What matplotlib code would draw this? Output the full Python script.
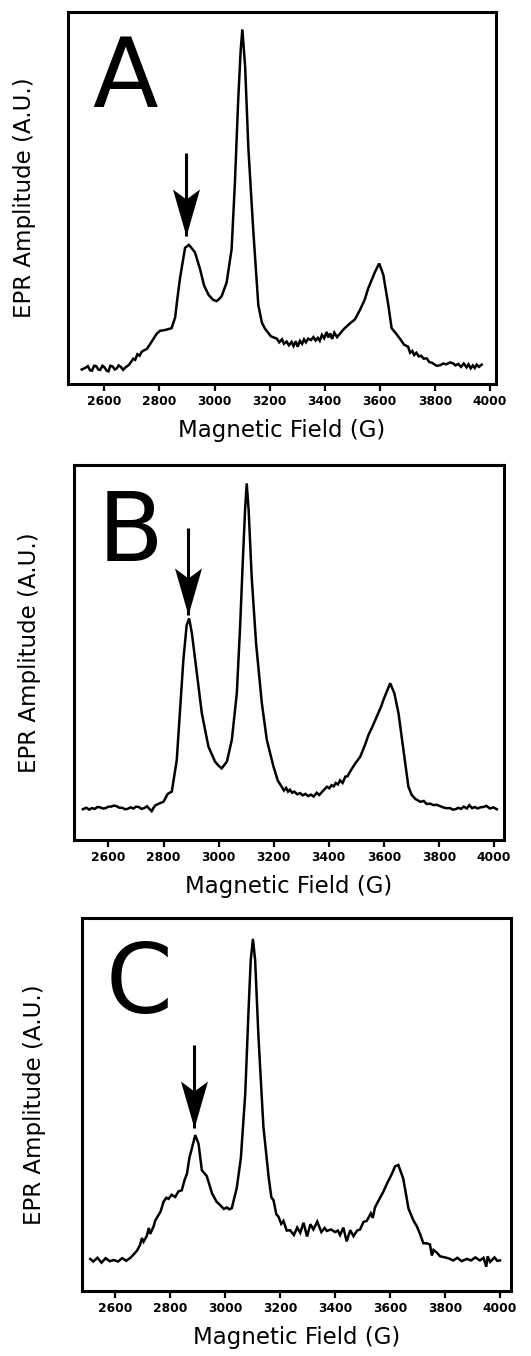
import matplotlib
matplotlib.use("Agg")
import matplotlib.pyplot as plt
from matplotlib.path import Path

# ---------------- data ----------------
field_A = [2518, 2530, 2540, 2548, 2555, 2563, 2570, 2578, 2585, 2593, 2600, 2608, 2615, 2622, 2630, 2638,
           2645, 2652, 2660, 2668, 2676, 2690, 2705, 2712, 2720, 2728, 2735, 2745, 2754,
           2765, 2778, 2790, 2802, 2820, 2844, 2857, 2866, 2875, 2893, 2907, 2918, 2929, 2947, 2962, 2978,
           2995, 3008, 3016, 3026, 3044, 3062, 3074, 3086, 3095, 3101, 3111, 3123, 3141, 3159, 3172, 3183,
           3205, 3226, 3235, 3245, 3252, 3262, 3270, 3280, 3287, 3295, 3302, 3310, 3318, 3325, 3332, 3340,
           3350, 3359, 3367, 3375, 3382, 3390, 3398, 3407, 3413, 3420, 3427, 3435, 3445, 3456,
           3470, 3492, 3510, 3528, 3545, 3558, 3583, 3598, 3613, 3631, 3643, 3660, 3673, 3688, 3703, 3710,
           3718, 3725, 3733, 3742, 3750, 3760, 3770, 3780, 3790, 3806, 3818, 3830, 3842, 3855, 3865, 3875,
           3885, 3895, 3905, 3915, 3922, 3930, 3938, 3945, 3952, 3960, 3970]
amp_A = [3.9, 4.3, 4.8, 3.7, 3.6, 4.9, 4.8, 3.9, 3.8, 4.9, 4.5, 3.6, 3.4, 4.9, 4.7, 3.9,
         4.2, 5.0, 4.6, 3.8, 4.4, 5.2, 6.8, 6.5, 8.0, 7.6, 8.6, 9.1, 9.4,
         10.6, 12.1, 13.5, 14.3, 14.5, 15.0, 17.9, 23.5, 28.6, 36.6, 37.4, 36.4, 35.4, 31.0, 26.5, 24.0,
         22.6, 22.3, 22.8, 23.6, 27.3, 36.2, 54.1, 76.4, 89.8, 95.3, 85.5, 63.2, 40.9, 21.2, 16.5, 14.9,
         12.8, 12.2, 11.2, 12.0, 10.8, 11.4, 10.4, 11.3, 10.2, 11.5, 10.0, 11.6, 10.8, 12.0, 11.2, 12.2,
         11.8, 12.6, 11.7, 12.4, 11.6, 13.2, 12.3, 14.0, 12.5, 13.6, 12.1, 13.8, 12.6, 13.6,
         14.8, 16.3, 17.4, 19.9, 22.6, 25.7, 30.2, 32.4, 29.3, 21.2, 15.0, 13.5, 12.2, 10.6, 10.0, 8.4,
         8.9, 7.8, 8.4, 7.4, 7.6, 6.8, 6.9, 5.9, 5.7, 4.9, 5.0, 5.5, 5.3, 5.8, 5.6, 5.0,
         5.4, 4.6, 5.5, 4.5, 5.3, 4.2, 5.0, 4.3, 5.2, 4.6, 5.2]

field_B = [2507, 2520, 2530, 2540, 2550, 2560, 2570, 2580, 2590, 2600, 2610, 2620, 2630, 2640, 2650,
           2660, 2670, 2680, 2691, 2700, 2710, 2720, 2730, 2740, 2750, 2757, 2763, 2770, 2780,
           2790, 2800, 2815, 2830, 2848, 2860, 2872, 2884, 2893, 2903, 2921, 2939, 2963, 2987, 3000, 3011,
           3030, 3048, 3066, 3078, 3088, 3096, 3102, 3109, 3120, 3136, 3157, 3175, 3199, 3215, 3229, 3237,
           3245, 3252, 3259, 3267, 3275, 3285, 3296, 3305, 3315, 3325, 3335, 3345, 3356, 3365, 3375, 3385,
           3393, 3402, 3410, 3418, 3425, 3433, 3441, 3450, 3460, 3468, 3477, 3495, 3514, 3530, 3544,
           3560, 3574, 3590, 3598, 3610, 3623, 3638, 3653, 3671, 3689, 3701, 3715, 3732, 3745, 3755, 3768,
           3780, 3792, 3805, 3815, 3825, 3840, 3850, 3860, 3870, 3880, 3890, 3901, 3910, 3920, 3930, 3940,
           3950, 3961, 3972, 3985, 3997, 4010]
amp_B = [8.2, 8.6, 8.1, 8.5, 8.3, 8.8, 8.7, 8.4, 8.5, 8.9, 8.9, 9.2, 9.0, 8.6, 8.6,
         8.2, 8.3, 8.7, 8.4, 8.9, 8.8, 8.3, 8.5, 9.0, 8.2, 7.7, 8.5, 9.2, 9.6,
         9.9, 10.2, 12.3, 12.9, 21.3, 34.7, 48.0, 57.3, 59.1, 55.1, 44.4, 33.8, 24.9, 20.9, 19.8, 19.1,
         20.9, 26.7, 39.1, 56.9, 74.7, 88.0, 95.1, 88.0, 70.2, 52.4, 36.4, 26.7, 19.6, 15.8, 14.2, 13.2,
         13.9, 12.9, 13.4, 12.6, 12.9, 12.2, 12.5, 11.9, 12.3, 11.7, 12.1, 11.6, 12.6, 12.0, 12.8, 13.6,
         14.2, 13.8, 14.6, 14.3, 15.2, 14.8, 15.9, 15.2, 16.9, 17.0, 18.2, 20.3, 22.2, 25.1, 28.0,
         30.5, 32.9, 35.6, 37.3, 39.5, 41.8, 39.1, 33.8, 24.0, 14.2, 12.0, 10.9, 10.2, 10.4, 9.6, 9.7,
         9.3, 9.4, 9.0, 8.7, 8.5, 8.5, 8.1, 8.2, 8.6, 8.3, 8.9, 8.4, 9.3, 8.5, 8.8, 8.4,
         8.7, 8.8, 9.1, 8.4, 8.7, 8.2]

field_C = [2509, 2520, 2535, 2550, 2565, 2580, 2595, 2610, 2625, 2640, 2655, 2668, 2679, 2690, 2697, 2703,
           2715, 2722, 2727, 2740, 2745, 2752, 2765, 2776, 2786, 2794, 2805, 2818, 2830, 2842, 2852, 2861,
           2870, 2879, 2891, 2903, 2915, 2933, 2952, 2968, 2982, 2995, 3006, 3015, 3024, 3042, 3057, 3073,
           3085, 3093, 3101, 3109, 3121, 3139, 3158, 3168, 3176, 3186, 3194, 3204, 3212, 3224, 3236, 3250,
           3262, 3273, 3285, 3298, 3310, 3321, 3335, 3350, 3362, 3370, 3385, 3400, 3410, 3418, 3430, 3442,
           3455, 3467, 3480, 3491, 3503, 3515, 3530, 3537, 3545, 3560, 3576, 3590, 3606, 3618, 3630, 3648,
           3667, 3685, 3697, 3709, 3721, 3733, 3745, 3752, 3758, 3770, 3782, 3800, 3815, 3830, 3845, 3860,
           3879, 3895, 3910, 3927, 3940, 3950, 3955, 3964, 3980, 3990, 4000]
amp_C = [8.6, 7.9, 8.9, 7.6, 8.8, 8.0, 8.3, 7.9, 8.8, 8.1, 8.9, 9.9, 10.8, 12.3, 14.2, 13.2,
         14.8, 16.9, 15.3, 17.4, 18.8, 19.7, 21.3, 24.0, 25.0, 24.7, 25.8, 25.2, 26.7, 27.0, 29.7, 31.5,
         35.8, 38.3, 41.8, 39.5, 32.4, 30.8, 26.2, 24.0, 23.0, 22.0, 22.4, 21.9, 22.2, 27.6, 35.6, 52.9,
         75.3, 88.7, 94.4, 88.7, 68.3, 44.1, 30.6, 25.1, 24.3, 20.6, 19.9, 18.0, 18.8, 16.2, 16.3, 15.0,
         17.0, 15.6, 18.3, 14.6, 17.9, 16.5, 18.6, 15.8, 16.9, 16.1, 16.5, 15.8, 16.2, 15.0, 17.0, 13.3,
         16.3, 14.7, 16.2, 16.5, 18.5, 18.8, 20.8, 19.6, 22.4, 24.5, 26.7, 29.0, 31.3, 33.4, 33.8, 30.1,
         22.1, 18.9, 17.4, 15.3, 12.8, 12.8, 12.5, 9.5, 11.0, 10.3, 9.3, 9.0, 8.7, 8.2, 8.9, 8.0,
         8.6, 8.2, 9.0, 8.2, 8.9, 6.5, 9.3, 7.8, 9.0, 8.1, 8.2]

panel_letters = ["A", "B", "C"]
arrow_x = [2895, 2890, 2888]
arrow_tail = [62.1, 83.1, 66.0]
arrow_tip = [39.8, 60.0, 43.6]
xlims = [(2468, 4022), (2475, 4036), (2479, 4040)]
xticks = [2600, 2800, 3000, 3200, 3400, 3600, 3800, 4000]
xlabel = "Magnetic Field (G)"
ylabel = "EPR Amplitude (A.U.)"

fields = [field_A, field_B, field_C]
amps = [amp_A, amp_B, amp_C]

# ---------------- figure ----------------
W, H = 531, 1356
fig = plt.figure(figsize=(W / 100, H / 100), dpi=100)
plt.rcParams['font.family'] = ['DejaVu Sans']

# arrow head marker: tip at origin, notched back
head = Path([(0, 0), (-13.5, 47), (0, 37), (13.5, 47), (0, 0)],
            [Path.MOVETO, Path.LINETO, Path.LINETO, Path.LINETO, Path.CLOSEPOLY])
head_size = 2 * 47 * 0.72

# axes boxes in pixels: left, right, top, bottom
boxes = [(68, 496, 12, 384), (74, 504, 465, 840), (82, 511, 918, 1291)]
ylab_x = [25, 30, 35]

for i in range(3):
    l, r, t, b = boxes[i]
    ax = fig.add_axes([l / W, 1 - b / H, (r - l) / W, (b - t) / H])
    ax.plot(fields[i], amps[i], color='black', lw=1.8, solid_joinstyle='miter')
    ax.set_xlim(*xlims[i])
    ax.set_ylim(0, 100)
    ax.set_yticks([])
    ax.set_xticks(xticks)
    ax.set_xticklabels([str(v) for v in xticks], fontsize=8.8, fontweight='bold')
    ax.tick_params(axis='x', direction='out', length=5, width=1.6, pad=3)
    for s in ax.spines.values():
        s.set_linewidth(2.2)
    ax.set_xlabel(xlabel, fontsize=16.5, labelpad=8)
    ax.text(0.056, 0.745, panel_letters[i], transform=ax.transAxes,
            fontsize=69, ha='left', va='baseline')
    # arrow: shaft + notched head
    ax.plot([arrow_x[i], arrow_x[i]], [arrow_tail[i], arrow_tip[i]], color='black',
            lw=2.2, solid_capstyle='butt')
    ax.plot([arrow_x[i]], [arrow_tip[i]], marker=head, markersize=head_size,
            color='black', markeredgewidth=0, linestyle='none')
    fig.text(ylab_x[i] / W, 1 - ((t + b) / 2) / H, ylabel, rotation=90,
             fontsize=16.5, ha='center', va='center')

fig.savefig("out.png", dpi=100)
